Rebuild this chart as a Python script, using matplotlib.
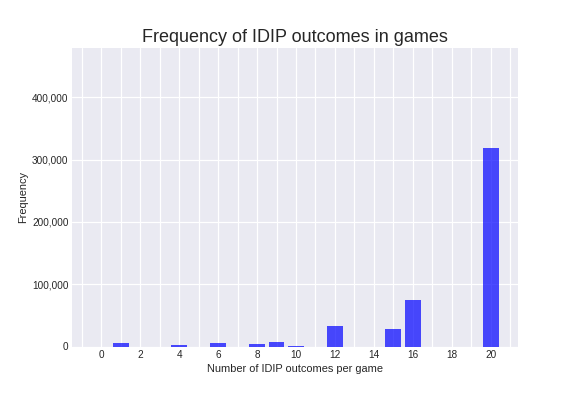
import matplotlib
matplotlib.use("Agg")
import matplotlib.pyplot as plt
from matplotlib.ticker import FuncFormatter, MultipleLocator

# Outcome counts
outcomes = [1, 4, 6, 8, 9, 10, 12, 15, 16, 20]
frequency = [6400, 3200, 6400, 4800, 8000, 1600, 33600, 28800, 75200, 318400]

plt.style.use("seaborn-v0_8-darkgrid")
plt.rcParams['font.family'] = ['Liberation Sans', 'DejaVu Sans']

fig, ax = plt.subplots(figsize=(8, 5.5), dpi=72)
fig.subplots_adjust(left=0.125, right=0.9, top=0.88, bottom=0.125)

ax.bar(outcomes, frequency, width=0.82, color='blue', alpha=0.7)

ax.set_xlim(-1.5, 21.42)
ax.set_ylim(0, 480000)
ax.xaxis.set_major_locator(MultipleLocator(2))
ax.xaxis.set_minor_locator(MultipleLocator(1))
ax.yaxis.set_major_locator(MultipleLocator(100000))
ax.yaxis.set_major_formatter(FuncFormatter(lambda v, p: f"{int(v):,}"))
ax.grid(True, which='both', axis='x', color='white', linewidth=1.2)
ax.grid(True, which='major', axis='y', color='white', linewidth=1.2)
ax.tick_params(labelsize=10)

ax.set_title("Frequency of IDIP outcomes in games", fontsize=18)
ax.set_xlabel("Number of IDIP outcomes per game", fontsize=11)
ax.set_ylabel("Frequency", fontsize=11)

fig.savefig("out.png", dpi=72)
